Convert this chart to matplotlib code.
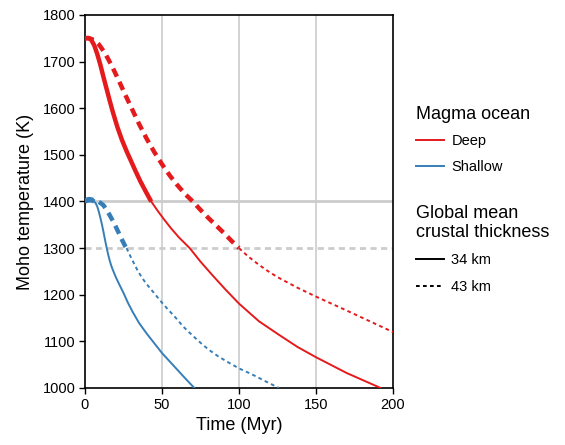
import numpy as np
import matplotlib.pyplot as plt
from matplotlib.lines import Line2D

plt.rcParams['font.family'] = ['Liberation Sans', 'DejaVu Sans']

# Moho temperature (K) vs time (Myr)
deep_34_t = [0, 2, 4, 6, 8, 10, 12, 14, 16, 18, 21, 24, 27, 30, 33, 36, 40, 43, 47, 51, 56, 61, 68,
             75, 83, 91, 100, 113, 126, 138, 150, 160, 170, 181, 192]
deep_34_T = [1750, 1751, 1747, 1735, 1716, 1693, 1667, 1642, 1617, 1593, 1560, 1532, 1508, 1486, 1464,
             1443, 1418, 1400, 1381, 1363, 1342, 1323, 1300, 1271, 1241, 1212, 1181, 1143, 1114, 1088,
             1066, 1049, 1032, 1016, 1000]

deep_43_t = [0, 3, 6, 9, 12, 15, 18, 22, 26, 30, 35, 40, 45, 50, 55, 60, 65, 70, 75, 80, 85, 90, 95,
             100, 106, 113, 120, 126, 138, 150, 160, 170, 185, 200]
deep_43_T = [1750, 1750, 1746, 1737, 1723, 1706, 1687, 1659, 1630, 1602, 1567, 1535, 1506, 1480, 1456,
             1435, 1416, 1400, 1382, 1365, 1349, 1333, 1316, 1300, 1282, 1264, 1248, 1236, 1215, 1196,
             1181, 1166, 1143, 1120]

shallow_34_t = [0, 1, 2, 3, 4, 5, 6, 7, 8, 9, 10, 11, 12, 13, 14, 15, 16, 17, 18, 20, 22, 25, 28, 31,
                35, 40, 45, 50, 55, 60, 65, 71]
shallow_34_T = [1400, 1403, 1405, 1405, 1404, 1402, 1400, 1396, 1389, 1378, 1365, 1351, 1335, 1318,
                1302, 1287, 1274, 1263, 1254, 1238, 1224, 1204, 1182, 1163, 1140, 1117, 1096, 1075,
                1057, 1039, 1021, 1000]

shallow_43_t = [0, 2, 4, 6, 8, 10, 12, 14, 16, 18, 20, 22, 24, 26, 27, 28, 30, 32, 34, 36, 38, 40, 43,
                46, 50, 54, 58, 64, 70, 75, 80, 86, 92, 100, 106, 111, 118, 126]
shallow_43_T = [1400, 1403, 1404, 1403, 1401, 1397, 1392, 1382, 1371, 1359, 1346, 1332, 1318, 1305,
                1300, 1293, 1279, 1266, 1253, 1242, 1232, 1223, 1211, 1199, 1183, 1168, 1154, 1131,
                1112, 1097, 1083, 1069, 1057, 1042, 1033, 1025, 1013, 1000]

red = '#e41a1c'
blue = '#377eb8'
grey = '#cccccc'


def draw_curve(ax, t, T, color, thresh, dashed):
    # thick above the threshold temperature, thin below it
    t = np.array(t)
    T = np.array(T)
    hot = T >= thresh
    cold = T <= thresh
    if dashed:
        ax.plot(t[hot], T[hot], color=color, lw=3.2, ls=(0, (2.0, 1.3)), zorder=3)
        ax.plot(t[cold], T[cold], color=color, lw=1.4, ls=(0, (1.9, 1.7)), zorder=3)
    else:
        ax.plot(t[hot], T[hot], color=color, lw=3.2, solid_capstyle='butt', zorder=3)
        ax.plot(t[cold], T[cold], color=color, lw=1.4, zorder=3)


fig = plt.figure(figsize=(5.65, 4.45), dpi=100)
ax = fig.add_axes([0.1504, 0.1281, 0.5452, 0.8382])

for x in [50, 100, 150]:
    ax.axvline(x, color=grey, lw=1.2, zorder=1)
ax.axhline(1400, color=grey, lw=2, zorder=1)
ax.axhline(1300, color=grey, lw=2, ls=(0, (2.2, 1.6)), zorder=1)

draw_curve(ax, deep_34_t, deep_34_T, red, 1400, False)
draw_curve(ax, deep_43_t, deep_43_T, red, 1300, True)
draw_curve(ax, shallow_34_t, shallow_34_T, blue, 1400, False)
draw_curve(ax, shallow_43_t, shallow_43_T, blue, 1300, True)

ax.set_xlim(0, 200)
ax.set_ylim(1000, 1800)
ax.set_xticks([0, 50, 100, 150, 200])
ax.set_yticks(range(1000, 1801, 100))
ax.tick_params(direction='out', length=4, width=1, labelsize=10.5, pad=3)
for s in ax.spines.values():
    s.set_linewidth(1.2)
ax.set_xlabel('Time (Myr)', fontsize=13, labelpad=4)
ax.set_ylabel('Moho temperature (K)', fontsize=13, labelpad=6)

h1 = [Line2D([], [], color=red, lw=1.4), Line2D([], [], color=blue, lw=1.4)]
leg1 = ax.legend(h1, ['Deep', 'Shallow'], title='Magma ocean', loc='upper left',
                 bbox_to_anchor=(0.724, 0.779), bbox_transform=fig.transFigure,
                 frameon=False, fontsize=10.5, title_fontsize=13, handlelength=1.9,
                 handletextpad=0.5, labelspacing=0.8, alignment='left', borderpad=0)
ax.add_artist(leg1)

h2 = [Line2D([], [], color='black', lw=1.4), Line2D([], [], color='black', lw=1.4, ls=(0, (1.9, 1.7)))]
leg2 = ax.legend(h2, ['34 km', '43 km'], title='Global mean\ncrustal thickness', loc='upper left',
                 bbox_to_anchor=(0.724, 0.556), bbox_transform=fig.transFigure,
                 frameon=False, fontsize=10.5, title_fontsize=13, handlelength=1.9,
                 handletextpad=0.5, labelspacing=0.85, alignment='left', borderpad=0)
leg2.get_title().set_linespacing(1.15)

fig.savefig('out.png', dpi=100)
